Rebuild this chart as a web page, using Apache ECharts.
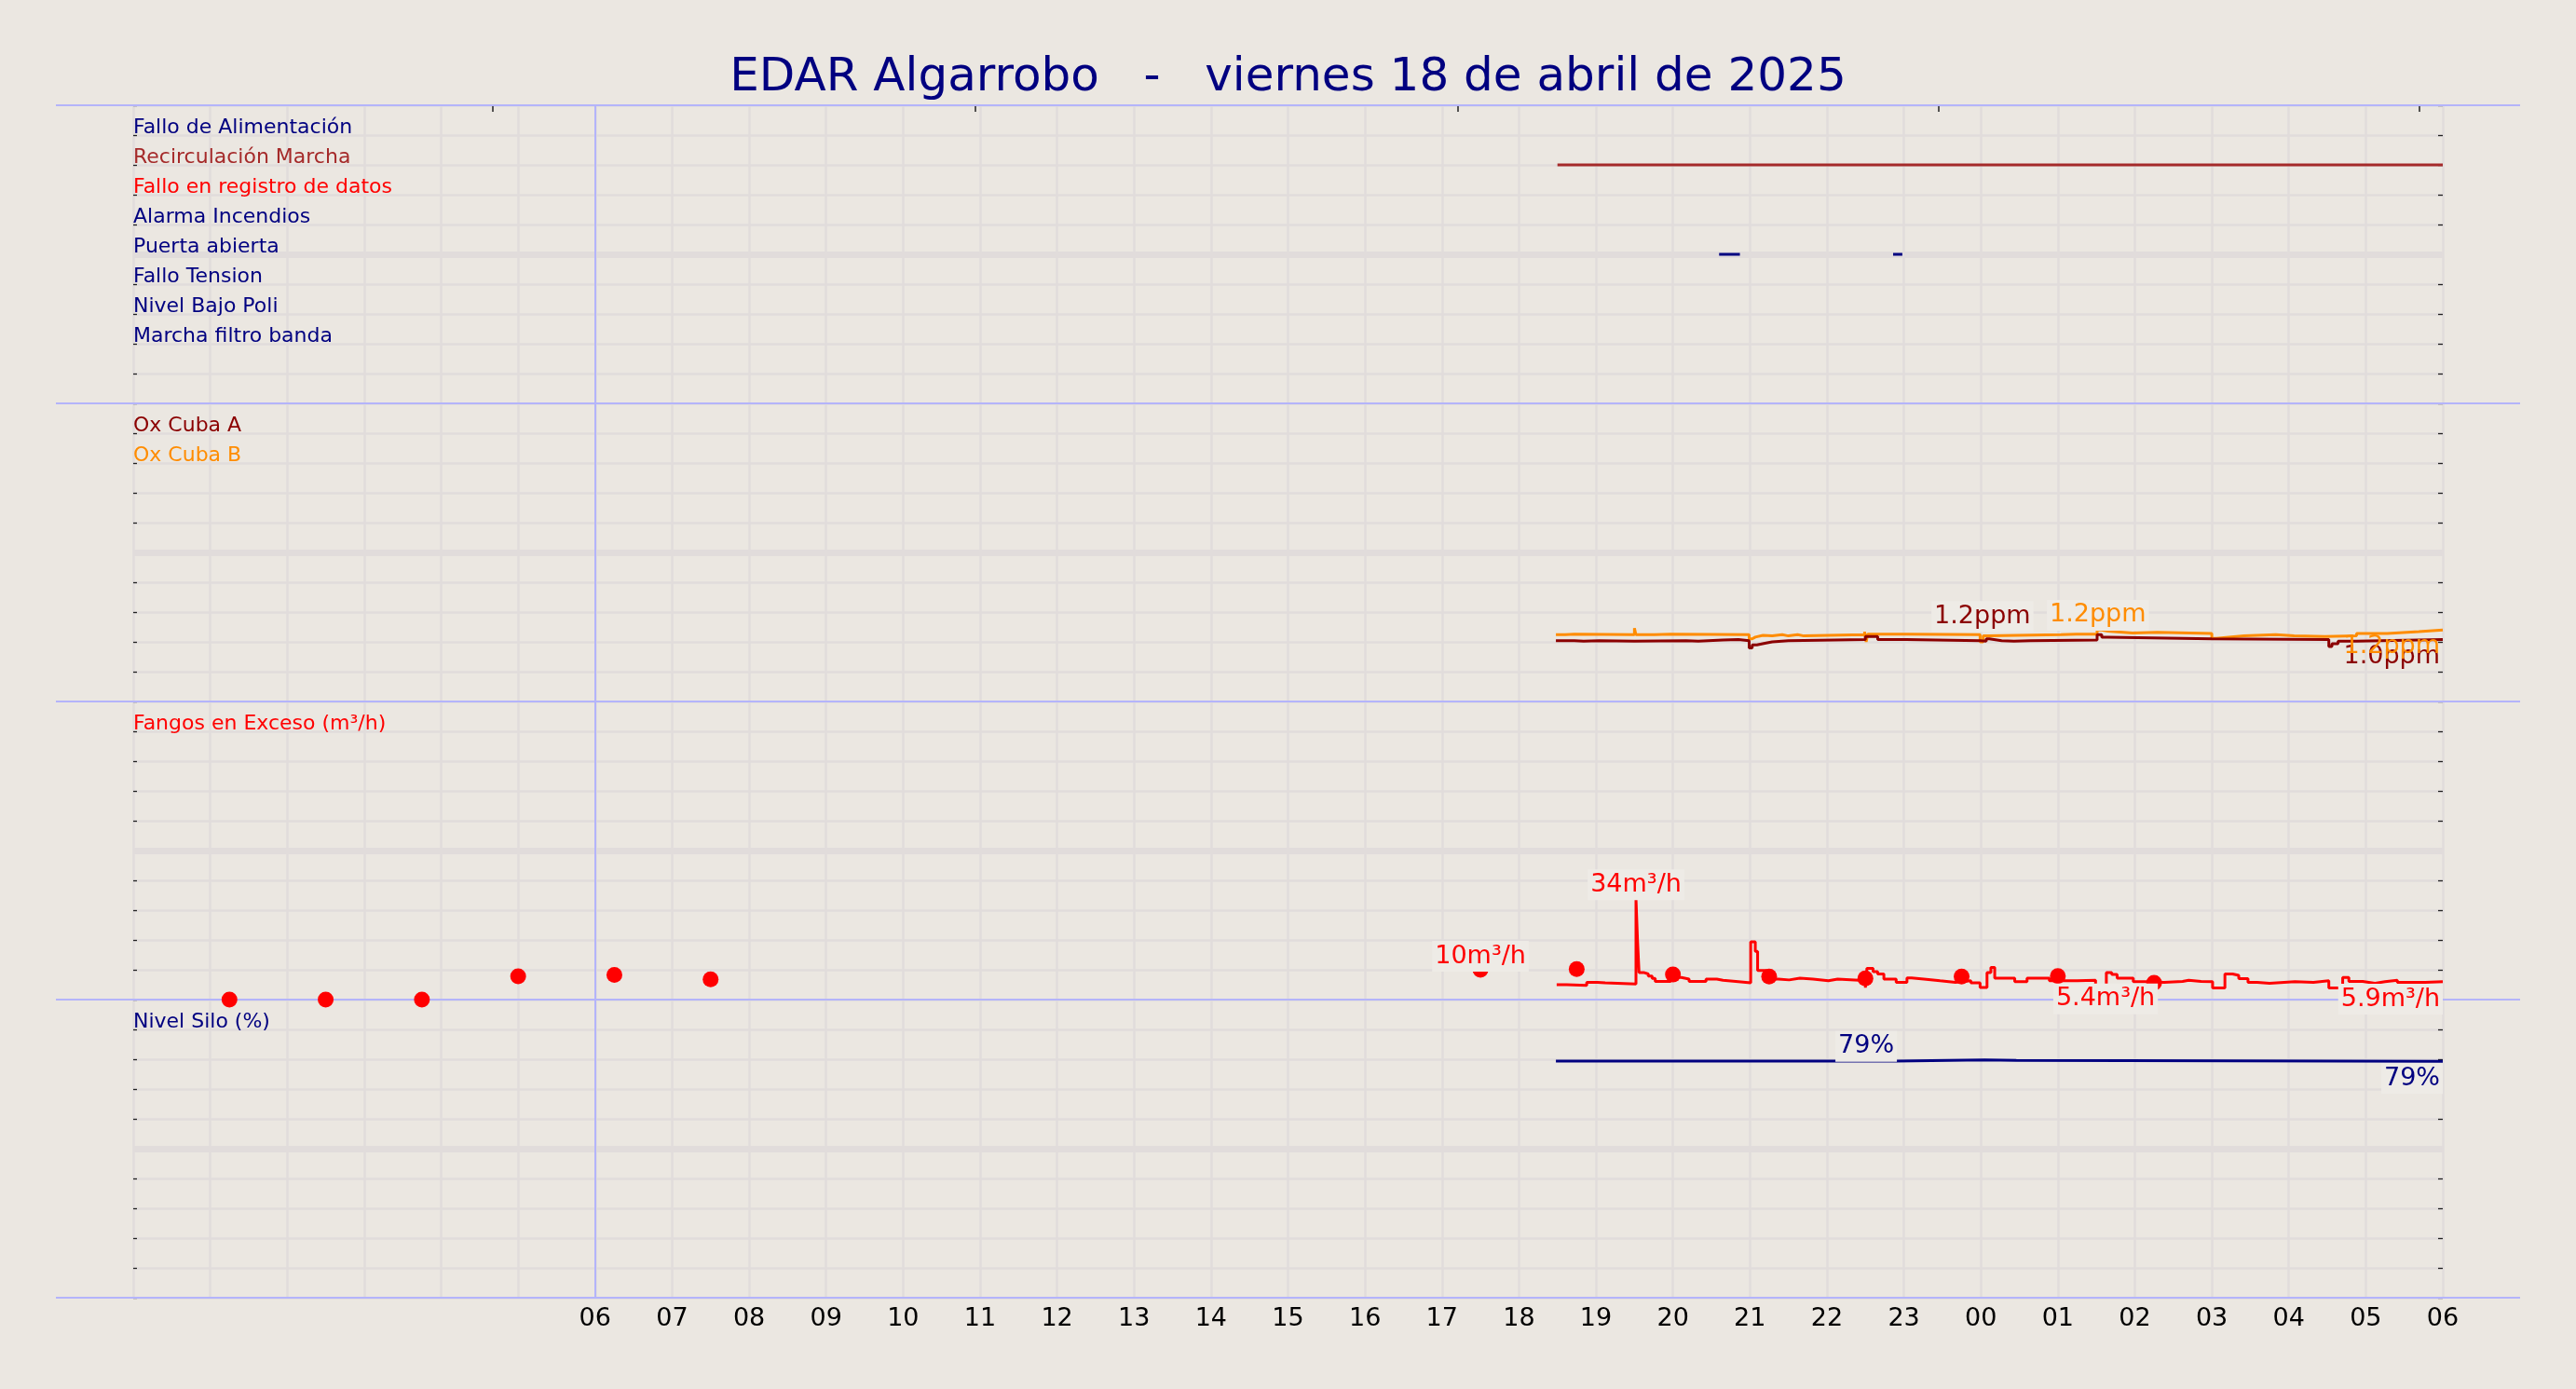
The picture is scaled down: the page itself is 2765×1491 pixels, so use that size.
<!DOCTYPE html>
<html>
<head>
<meta charset="utf-8">
<title>EDAR Algarrobo</title>
<script src="https://cdn.jsdelivr.net/npm/echarts@6/dist/echarts.min.js"></script>
<style>
  html, body { margin: 0; padding: 0; background: #ebe7e1; }
  #chart { width: 2765px; height: 1491px; }
</style>
</head>
<body>
<div id="chart"></div>
<script>
// datos del panel (horas desde las 00:00 del 18/04)
const titulo = 'EDAR Algarrobo   -   viernes 18 de abril de 2025'

const horasEtiqueta = [6, 7, 8, 9, 10, 11, 12, 13, 14, 15, 16, 17, 18, 19, 20, 21, 22, 23, 24, 25, 26, 27, 28, 29, 30]
const etiquetasHora = ['06', '07', '08', '09', '10', '11', '12', '13', '14', '15', '16', '17', '18', '19', '20', '21', '22', '23', '00', '01', '02', '03', '04', '05', '06']
const horasMarcaSuperior = [4.67, 10.94, 17.2, 23.45, 29.7]

// señales digitales
const senales = ['Fallo de Alimentación', 'Recirculación Marcha', 'Fallo en registro de datos', 'Alarma Incendios', 'Puerta abierta', 'Fallo Tension', 'Nivel Bajo Poli', 'Marcha filtro banda']
const coloresSenales = ['#000080', '#a52a2a', '#ff0000', '#000080', '#000080', '#000080', '#000080', '#000080']
const recirculacionOn = [[18.5, 30]]
const puertaAbiertaOn = [[20.6, 20.87], [22.86, 22.98]]

// oxigeno (ppm)
const oxNombres = ['Ox Cuba A', 'Ox Cuba B']
const oxColores = ['#8b0000', '#ff8c00']
const oxAHoras = [18.48, 18.72, 18.84, 19.04, 19.5, 19.52, 20.17, 20.33, 20.65, 20.85, 20.99, 21.03, 21.09, 21.21, 21.29, 21.5, 22.5, 22.66, 23.03, 23.99, 24.07, 24.11, 24.27, 24.43, 24.64, 25.51, 25.57, 25.65, 27.0, 28.52, 28.56, 28.64, 28.88, 30]
const oxA = [1.02, 1.01, 1.02, 1.01, 1.04, 1.02, 1.01, 1.03, 1.04, 1.02, 0.9, 0.95, 0.98, 1.0, 1.02, 1.04, 1.09, 1.04, 1.02, 1.01, 1.05, 1.02, 1.01, 1.02, 1.03, 1.12, 1.08, 1.05, 1.04, 0.92, 0.97, 1.01, 1.04, 1.04]
const oxBHoras = [18.48, 18.6, 18.72, 19.5, 19.52, 19.76, 19.97, 20.99, 21.03, 21.07, 21.17, 21.29, 21.42, 21.5, 21.62, 21.7, 22.49, 22.51, 22.53, 22.64, 23.03, 23.99, 24.03, 24.1, 25.04, 25.24, 25.51, 25.57, 25.65, 25.97, 26.29, 27.0, 27.06, 27.22, 27.42, 27.83, 28.07, 28.47, 28.88, 29.28, 29.69, 30]
const oxB = [1.12, 1.13, 1.12, 1.23, 1.12, 1.13, 1.12, 1.05, 1.08, 1.11, 1.1, 1.12, 1.1, 1.12, 1.1, 1.12, 1.17, 1.0, 1.13, 1.13, 1.12, 1.0, 1.1, 1.12, 1.13, 1.13, 1.2, 1.18, 1.15, 1.16, 1.14, 1.06, 1.08, 1.1, 1.12, 1.1, 1.09, 1.1, 1.14, 1.17, 1.2, 1.21]

// fangos en exceso (m³/h)
const fangosHoras = [18.49, 18.62, 18.88, 19.02, 19.12, 19.52, 19.54, 19.56, 19.62, 19.68, 19.73, 19.77, 19.97, 20.11, 20.21, 20.43, 20.57, 20.65, 20.85, 21.01, 21.07, 21.1, 21.21, 21.37, 21.51, 21.65, 21.82, 22.02, 22.14, 22.42, 22.5, 22.52, 22.6, 22.66, 22.74, 22.9, 23.04, 23.1, 23.26, 23.47, 23.67, 23.87, 23.99, 24.08, 24.13, 24.18, 24.44, 24.6, 24.89, 25.25, 25.49, 25.63, 25.7, 25.77, 25.98, 26.14, 26.38, 26.62, 26.7, 26.86, 27.01, 27.17, 27.27, 27.35, 27.47, 27.59, 27.75, 28.08, 28.32, 28.52, 28.7, 28.78, 28.96, 29.12, 29.25, 29.41, 29.77, 30]
const fangos = [5.0, 4.8, 5.8, 5.6, 5.2, 34, 20, 9.1, 8.6, 7.9, 7.1, 6.1, 7.4, 6.9, 6.1, 6.9, 6.5, 6.0, 5.6, 19.4, 16.2, 9.8, 6.9, 6.6, 7.2, 6.9, 6.3, 6.9, 6.5, 6.3, 4.0, 10.5, 9.4, 8.6, 6.9, 5.8, 7.3, 6.9, 6.3, 5.8, 6.3, 5.6, 4.1, 9.1, 10.8, 7.2, 6.0, 7.2, 6.3, 6.5, 4.5, 9.1, 8.4, 7.2, 6.0, 5.8, 6.1, 6.5, 6.1, 6.0, 3.9, 8.6, 8.1, 7.0, 5.8, 5.5, 6.0, 5.8, 6.3, 3.9, 7.4, 6.1, 5.5, 6.0, 6.5, 5.8, 6.0, 6.0]
const fangosPuntosHoras = [1.25, 2.5, 3.75, 5.0, 6.25, 7.5, 17.5, 18.75, 20.0, 21.25, 22.5, 23.75, 25.0, 26.25]
const fangosPuntos = [0, 0, 0, 7.8, 8.3, 6.8, 10, 10.2, 8.4, 7.7, 7.1, 7.7, 7.9, 5.6]

// nivel silo (%)
const siloHoras = [18.48, 22.9, 24.05, 24.46, 30]
const silo = [79.4, 79.8, 79.6, 79.3, 79.3]

// anotaciones: [hora, valor, texto, tipo]
const notasOxA = [[24.02, 1.2, '1.2ppm', 'max'], [30, 1.04, '1.0ppm', 'fin']]
const notasOxB = [[25.52, 1.22, '1.2ppm', 'max'], [30, 1.21, '1.2ppm', 'fin']]
const notasFangos = [[19.52, 34, '34m³/h', 'max'], [17.5, 10, '10m³/h', 'max'], [25.62, 5.4, '5.4m³/h', 'min'], [30, 5.9, '5.9m³/h', 'fin']]
const notasSilo = [[22.51, 79.8, '79%', 'max'], [30, 79.3, '79%', 'fin']]

// cada panel ocupa 100 unidades del eje vertical
const BASE_SENALES = 300
const BASE_OX = 200
const BASE_FANGOS = 100
const BASE_SILO = 0
const ESCALA_OX = 20

const FUENTE = 'DejaVu Sans'
const FONDO = '#ebe7e1'
const REJILLA = '#e1dcdb'
const AZUL = '#b4b4fa'
const NAVY = '#000080'
const CAJA = '#eeebe6'

const nivelSenal = (i) => BASE_SENALES + 90 - i * 10

const tramos = (intervalos, nivel) => {
  const d = []
  intervalos.forEach(([a, b]) => { d.push([a, nivel], [b, nivel], [b, '-']) })
  return d
}

const serieLinea = (name, horas, valores, f, color) => ({
  name,
  type: 'line',
  step: 'end',
  data: horas.map((h, i) => [h, f(valores[i])]),
  showSymbol: false,
  symbol: 'none',
  lineStyle: { color, width: 3 },
  itemStyle: { color },
  z: 3,
  animation: false
})

// cajaFin: si la etiqueta del último valor lleva fondo
const serieNotas = (notas, f, color, cajaFin) => ({
  type: 'scatter',
  symbolSize: 0,
  silent: true,
  z: 6,
  animation: false,
  itemStyle: { opacity: 1 },
  data: notas.map(([h, v, texto, tipo]) => {
    const label = {
      show: true,
      formatter: texto,
      color,
      fontFamily: FUENTE,
      fontSize: 27,
      backgroundColor: CAJA,
      padding: [3, 3]
    }
    if (tipo === 'max') { label.position = 'top'; label.distance = 0; label.offset = [0, 2] }
    if (tipo === 'min') { label.position = 'bottom'; label.distance = 0 }
    if (tipo === 'fin') {
      label.position = 'bottom'; label.distance = 2; label.align = 'right'
      if (!cajaFin) label.backgroundColor = 'transparent'
    }
    return { value: [h, f(v)], label }
  })
})

const serieEtiquetas = (nombres, colores, niveles) => ({
  type: 'scatter',
  symbolSize: 0,
  silent: true,
  z: 6,
  animation: false,
  itemStyle: { opacity: 1 },
  data: nombres.map((n, i) => ({
    name: n,
    value: [0, niveles[i]],
    label: {
      show: true,
      formatter: '{b}',
      position: 'right',
      distance: 0,
      offset: [0, -8],
      color: colores[i],
      fontFamily: FUENTE,
      fontSize: 22
    }
  }))
})

const aOx = (v) => BASE_OX + v * ESCALA_OX
const aFangos = (v) => BASE_FANGOS + v
const aSilo = (v) => BASE_SILO + v

const chart = echarts.init(document.getElementById('chart'))

chart.setOption({
  backgroundColor: FONDO,
  animation: false,
  title: {
    text: titulo,
    left: 'center',
    top: 54,
    textStyle: { color: NAVY, fontFamily: FUENTE, fontSize: 50, fontWeight: 'normal' }
  },
  grid: [
    { left: 143, right: 143, top: 113, bottom: 98, outerBoundsMode: 'none', containLabel: false },
    { left: 60, right: 60, top: 113, bottom: 98, outerBoundsMode: 'none', containLabel: false }
  ],
  xAxis: [
    {
      type: 'value', gridIndex: 0, position: 'bottom', min: 0, max: 30, interval: 1,
      axisLine: { show: false, onZero: false }, axisTick: { show: false },
      axisLabel: {
        color: '#000', fontFamily: FUENTE, fontSize: 27, margin: 9,
        formatter: (v) => { const i = horasEtiqueta.indexOf(v); return i < 0 ? '' : etiquetasHora[i] }
      },
      splitLine: { show: true, lineStyle: { color: REJILLA, width: 2.5 } }
    },
    {
      type: 'value', gridIndex: 0, position: 'top', min: 0, max: 30,
      axisLine: { show: false, onZero: false },
      axisTick: { show: true, inside: true, length: 7, customValues: horasMarcaSuperior, lineStyle: { color: '#222', width: 1.5 } },
      axisLabel: { show: false },
      splitLine: { show: false }
    },
    {
      type: 'value', gridIndex: 1, min: 0, max: 1,
      axisLine: { show: false, onZero: false }, axisTick: { show: false }, axisLabel: { show: false }, splitLine: { show: false }
    }
  ],
  yAxis: [
    {
      type: 'value', gridIndex: 0, position: 'left', min: 0, max: 400, interval: 10,
      axisLine: { show: false, onZero: false },
      axisTick: { show: true, inside: true, length: 4, lineStyle: { color: '#222', width: 1.3 } },
      axisLabel: { show: false },
      splitLine: { show: true, lineStyle: { color: REJILLA, width: 2.5 } }
    },
    {
      type: 'value', gridIndex: 0, position: 'right', min: 0, max: 400, interval: 10,
      axisLine: { show: false, onZero: false },
      axisTick: { show: true, inside: true, length: 5, lineStyle: { color: '#222', width: 1.3 } },
      axisLabel: { show: false },
      splitLine: { show: false }
    },
    {
      type: 'value', gridIndex: 1, min: 0, max: 400, interval: 100, z: 1,
      axisLine: { show: false, onZero: false }, axisTick: { show: false }, axisLabel: { show: false },
      splitLine: { show: true, lineStyle: { color: AZUL, width: 2 } }
    }
  ],
  series: [
    // bandas centrales de cada panel y línea de referencia de las 06
    {
      type: 'line',
      data: [],
      z: 1,
      silent: true,
      markLine: {
        z: 1,
        silent: true,
        symbol: ['none', 'none'],
        label: { show: false },
        animation: false,
        data: [
          { yAxis: 50, lineStyle: { color: REJILLA, width: 7, type: 'solid' } },
          { yAxis: 150, lineStyle: { color: REJILLA, width: 7, type: 'solid' } },
          { yAxis: 250, lineStyle: { color: REJILLA, width: 7, type: 'solid' } },
          { yAxis: 350, lineStyle: { color: REJILLA, width: 7, type: 'solid' } },
          { xAxis: 6, lineStyle: { color: AZUL, width: 2, type: 'solid' } }
        ]
      }
    },
    {
      name: senales[1], type: 'line', data: tramos(recirculacionOn, nivelSenal(1)),
      showSymbol: false, symbol: 'none', connectNulls: false, z: 3,
      lineStyle: { color: coloresSenales[1], width: 3 }
    },
    {
      name: senales[4], type: 'line', data: tramos(puertaAbiertaOn, nivelSenal(4)),
      showSymbol: false, symbol: 'none', connectNulls: false, z: 3,
      lineStyle: { color: coloresSenales[4], width: 3 }
    },
    serieLinea(oxNombres[1], oxBHoras, oxB, aOx, oxColores[1]),
    serieLinea(oxNombres[0], oxAHoras, oxA, aOx, oxColores[0]),
    serieLinea('Fangos en Exceso', fangosHoras, fangos, aFangos, '#ff0000'),
    {
      name: 'Fangos puntual', type: 'scatter', symbolSize: 17, z: 4,
      itemStyle: { color: '#ff0000', opacity: 1 },
      data: fangosPuntosHoras.map((h, i) => [h, aFangos(fangosPuntos[i])])
    },
    serieLinea('Nivel Silo', siloHoras, silo, aSilo, NAVY),
    serieNotas(notasOxA, aOx, oxColores[0], false),
    serieNotas(notasOxB, aOx, oxColores[1], false),
    serieNotas(notasFangos, aFangos, '#ff0000', true),
    serieNotas(notasSilo, aSilo, NAVY, true),
    serieEtiquetas(senales, coloresSenales, senales.map((s, i) => nivelSenal(i))),
    serieEtiquetas(oxNombres, oxColores, [BASE_OX + 90, BASE_OX + 80]),
    serieEtiquetas(['Fangos en Exceso (m³/h)'], ['#ff0000'], [BASE_FANGOS + 90]),
    serieEtiquetas(['Nivel Silo (%)'], [NAVY], [BASE_SILO + 90])
  ]
})
</script>
</body>
</html>
